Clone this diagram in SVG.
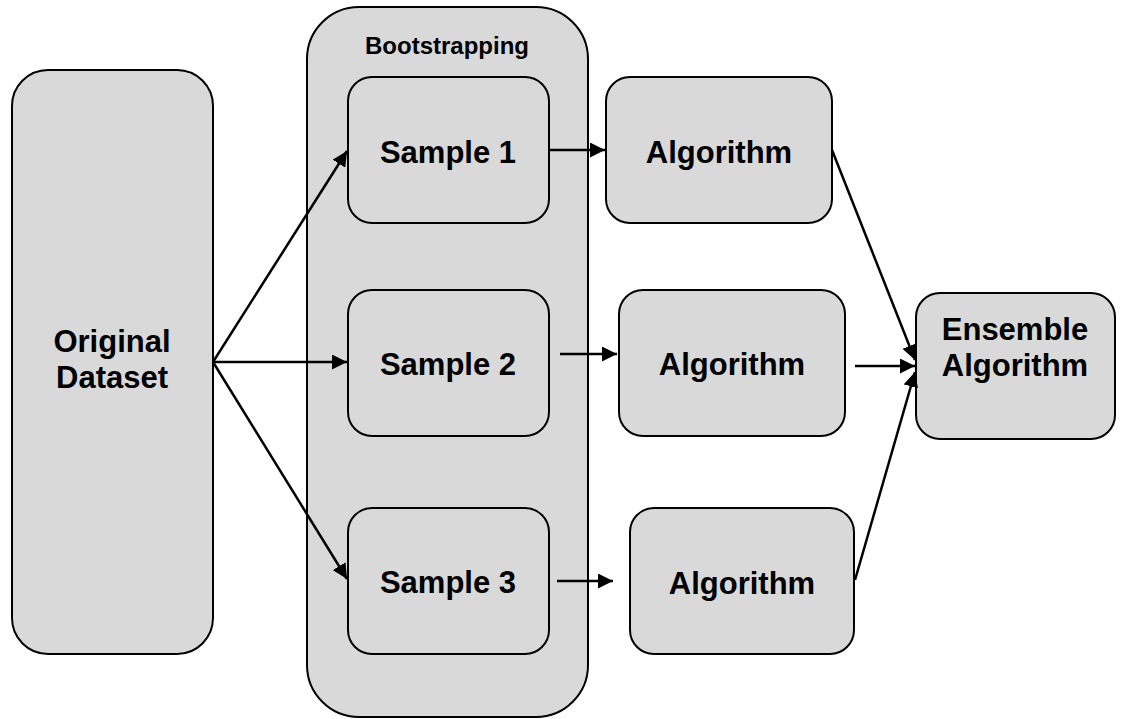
<svg xmlns="http://www.w3.org/2000/svg" width="1128" height="719" viewBox="0 0 1128 719">
<defs>
<style>
.box{fill:#d9d9d9;stroke:#000;stroke-width:2}
.t{font-family:"Liberation Sans",Arial,sans-serif;font-weight:bold;font-size:31px;text-anchor:middle;fill:#000}
.c{stroke:#000;stroke-width:2.5;fill:none;marker-end:url(#ah)}
</style>
<marker id="ah" viewBox="0 0 10 10" refX="10" refY="5" markerWidth="6" markerHeight="6" markerUnits="strokeWidth" orient="auto">
<path d="M0,0 L10,5 L0,10 z" fill="#000"/>
</marker>
</defs>
<rect width="1128" height="719" fill="#fff"/>
<g id="original"><rect class="box" x="12" y="70" width="201" height="584" rx="36"/><text class="t" x="112" y="352">Original</text><text class="t" x="112" y="388">Dataset</text></g>
<g id="bootstrapping"><rect class="box" x="307" y="7" width="281" height="710" rx="52"/><text class="t" x="447" y="54" style="font-size:24px">Bootstrapping</text></g>
<g id="sample1"><rect class="box" x="348" y="77" width="201" height="146" rx="24"/><text class="t" x="448" y="163">Sample 1</text></g>
<g id="sample2"><rect class="box" x="348" y="290" width="201" height="146" rx="24"/><text class="t" x="448" y="375">Sample 2</text></g>
<g id="sample3"><rect class="box" x="348" y="508" width="201" height="146" rx="24"/><text class="t" x="448" y="593">Sample 3</text></g>
<g id="algo1"><rect class="box" x="606" y="77" width="226" height="146" rx="24"/><text class="t" x="719" y="163">Algorithm</text></g>
<g id="algo2"><rect class="box" x="619" y="290" width="226" height="146" rx="24"/><text class="t" x="732" y="375">Algorithm</text></g>
<g id="algo3"><rect class="box" x="630" y="508" width="224" height="146" rx="24"/><text class="t" x="742" y="594">Algorithm</text></g>
<g id="ensemble"><rect class="box" x="916" y="293" width="199" height="146" rx="24"/><text class="t" x="1015" y="340">Ensemble</text><text class="t" x="1015" y="376">Algorithm</text></g>
<g id="connectors">
<line class="c" x1="213" y1="362" x2="347" y2="151"/>
<line class="c" x1="213" y1="362" x2="347" y2="362"/>
<line class="c" x1="213" y1="362" x2="347" y2="579"/>
<line class="c" x1="549" y1="150" x2="605" y2="150"/>
<line class="c" x1="560" y1="354" x2="617" y2="354"/>
<line class="c" x1="557" y1="581" x2="613" y2="581"/>
<line class="c" x1="832" y1="150" x2="915" y2="360"/>
<line class="c" x1="855" y1="366" x2="915" y2="366"/>
<line class="c" x1="855" y1="580" x2="915" y2="372"/>
</g>
</svg>
